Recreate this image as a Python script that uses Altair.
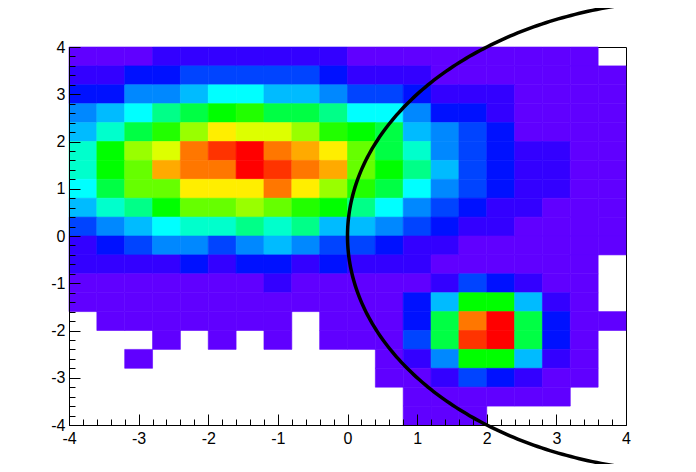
import numpy as np
import pandas as pd
import altair as alt

# ---------------- data ----------------
x_min, x_max, n_x = -4.0, 4.0, 20
y_min, y_max, n_y = -4.0, 4.0, 20

# bin contents (colour level, 0 = empty); rows listed from top (y 3.6..4) to bottom (y -4..-3.6)
counts = [
    [1, 1, 1, 2, 2, 2, 2, 2, 2, 2, 1, 1, 1, 1, 1, 1, 1, 1, 1, 0],
    [2, 2, 3, 3, 4, 4, 4, 4, 4, 3, 2, 2, 2, 1, 1, 1, 1, 1, 1, 1],
    [3, 3, 5, 5, 6, 7, 7, 6, 6, 5, 4, 4, 3, 2, 2, 2, 1, 1, 1, 1],
    [5, 6, 7, 9, 10, 11, 12, 10, 10, 9, 7, 7, 5, 3, 3, 2, 1, 1, 1, 1],
    [6, 8, 10, 12, 14, 16, 15, 15, 14, 12, 11, 10, 6, 5, 4, 3, 1, 1, 1, 1],
    [8, 11, 14, 15, 18, 19, 20, 18, 17, 16, 13, 10, 8, 5, 4, 3, 2, 2, 1, 1],
    [8, 11, 13, 17, 18, 18, 20, 19, 18, 17, 13, 11, 9, 6, 4, 3, 2, 2, 1, 1],
    [7, 10, 13, 13, 16, 16, 16, 18, 16, 14, 12, 10, 7, 5, 4, 3, 2, 2, 1, 1],
    [6, 8, 9, 11, 13, 13, 14, 13, 12, 11, 9, 7, 5, 4, 3, 2, 2, 1, 1, 1],
    [4, 5, 6, 7, 8, 8, 9, 8, 9, 6, 6, 5, 4, 3, 2, 2, 1, 1, 1, 1],
    [2, 3, 4, 5, 5, 4, 5, 6, 5, 4, 4, 3, 2, 2, 1, 1, 1, 1, 1, 1],
    [2, 2, 2, 2, 3, 2, 3, 3, 2, 3, 2, 2, 2, 1, 1, 1, 1, 1, 1, 0],
    [1, 1, 1, 1, 1, 1, 1, 2, 1, 1, 1, 1, 1, 2, 4, 3, 2, 1, 1, 0],
    [1, 1, 1, 1, 1, 1, 1, 1, 1, 1, 1, 1, 3, 6, 11, 11, 6, 2, 1, 0],
    [0, 1, 1, 1, 1, 1, 1, 1, 0, 1, 1, 1, 3, 10, 18, 20, 10, 3, 1, 1],
    [0, 0, 0, 1, 0, 1, 0, 1, 0, 1, 1, 1, 4, 10, 19, 20, 10, 3, 1, 0],
    [0, 0, 1, 0, 0, 0, 0, 0, 0, 0, 0, 1, 2, 5, 11, 11, 6, 2, 1, 0],
    [0, 0, 0, 0, 0, 0, 0, 0, 0, 0, 0, 1, 1, 2, 4, 3, 2, 1, 1, 0],
    [0, 0, 0, 0, 0, 0, 0, 0, 0, 0, 0, 0, 1, 1, 1, 1, 1, 1, 0, 0],
    [0, 0, 0, 0, 0, 0, 0, 0, 0, 0, 0, 0, 1, 1, 1, 0, 0, 0, 0, 0],
]

levels = list(range(1, 21))
palette = [
    "#6000ff", "#3300ff", "#0011ff", "#0044ff", "#0088ff",
    "#00bbff", "#00ffff", "#00ffcc", "#00ff88", "#00ff44",
    "#00ff00", "#22ff00", "#66ff00", "#99ff00", "#ddff00",
    "#ffee00", "#ffaa00", "#ff7700", "#ff3300", "#ff0000",
]

major_ticks = [-4, -3, -2, -1, 0, 1, 2, 3, 4]
minor_ticks = [-3.8, -3.6, -3.4, -3.2, -2.8, -2.6, -2.4, -2.2, -1.8, -1.6, -1.4, -1.2,
               -0.8, -0.6, -0.4, -0.2, 0.2, 0.4, 0.6, 0.8, 1.2, 1.4, 1.6, 1.8,
               2.2, 2.4, 2.6, 2.8, 3.2, 3.4, 3.6, 3.8]

# overlaid circle (centre and radius in data units), left half drawn
circle_cx, circle_cy, circle_r = 5.0, 0.0, 5.0

# ---------------- tables ----------------
bw = (x_max - x_min) / n_x
bh = (y_max - y_min) / n_y
cells = []
for r, row in enumerate(counts):
    ytop = y_max - r * bh
    for c, v in enumerate(row):
        if v > 0:
            cells.append({"x0": x_min + c * bw, "x1": x_min + (c + 1) * bw,
                          "y0": ytop - bh, "y1": ytop, "level": v,
                          "xc": x_min + (c + 0.5) * bw, "yc": ytop - bh / 2})
cells_df = pd.DataFrame(cells)

t = np.linspace(np.pi / 2, 3 * np.pi / 2, 241)
curve_df = pd.DataFrame({"i": np.arange(t.size),
                         "x": circle_cx + circle_r * np.cos(t),
                         "y": circle_cy + circle_r * np.sin(t)})

W, H = 557, 378
xs = alt.Scale(domain=[x_min, x_max], nice=False, zero=False)
ys = alt.Scale(domain=[y_min, y_max], nice=False, zero=False)

lab_common = dict(values=major_ticks, ticks=False, tickSize=0, grid=False, title=None,
                  labelFont="Liberation Sans", labelFontSize=16, labelColor="black",
                  domainColor="black", domainWidth=1, labelFlush=False,
                  labelOverlap=False, labelExpr="datum.value + ''", zindex=1)

x_lab = alt.Axis(orient="bottom", labelPadding=5, **lab_common)
y_lab = alt.Axis(orient="left", labelPadding=4, **lab_common)

def tick_axis(orient, off, vals, size):
    return alt.Axis(orient=orient, offset=off, values=vals, labels=False, domain=False,
                    tickSize=size, tickColor="black", tickWidth=1, grid=False,
                    title=None, zindex=2)

color_scale = alt.Scale(domain=levels, range=palette)

heat = alt.Chart(cells_df).mark_rect(strokeWidth=0.6).encode(
    x=alt.X("x0:Q", scale=xs, axis=x_lab),
    x2="x1:Q",
    y=alt.Y("y0:Q", scale=ys, axis=y_lab),
    y2="y1:Q",
    color=alt.Color("level:O", scale=color_scale, legend=None),
    stroke=alt.Stroke("level:O", scale=color_scale, legend=None),
)

curve = alt.Chart(curve_df).mark_line(clip=False, color="black", strokeWidth=3.5).encode(
    x=alt.X("x:Q", scale=xs, axis=tick_axis("top", -H, major_ticks, 11)),
    y=alt.Y("y:Q", scale=ys, axis=tick_axis("right", -W, major_ticks, 11)),
    order=alt.Order("i:Q"),
)

minor = alt.Chart(cells_df).mark_point(opacity=0).encode(
    x=alt.X("xc:Q", scale=xs, axis=tick_axis("top", -H, minor_ticks, 6)),
    y=alt.Y("yc:Q", scale=ys, axis=tick_axis("right", -W, minor_ticks, 6)),
)

chart = alt.layer(heat, minor, curve).resolve_axis(
    x="independent", y="independent"
).properties(
    width=W, height=H,
    autosize=alt.AutoSizeParams(type="none"),
    padding={"left": 61, "top": 39, "right": 62, "bottom": 39},
    background="white",
).configure_view(stroke="black", strokeWidth=1)

chart.save("out.html", embed_options={"renderer": "svg", "actions": False})
